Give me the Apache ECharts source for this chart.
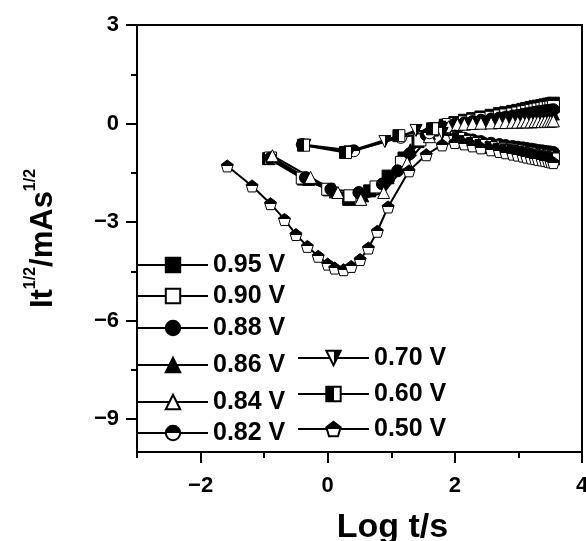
<!DOCTYPE html>
<html>
<head>
<meta charset="utf-8">
<script src="https://cdn.jsdelivr.net/npm/echarts@6/dist/echarts.min.js"></script>
<style>
  html, body { margin: 0; padding: 0; background: #fff; }
  #chart { width: 586px; height: 541px; }
</style>
</head>
<body>
<div id="chart"></div>
<script>
// potentials (legend labels)
const potentials = ['0.95 V', '0.90 V', '0.88 V', '0.86 V', '0.84 V', '0.82 V', '0.70 V', '0.60 V', '0.50 V'];

// shared long-time part of every transient (log t/s)
const tailLogT = [2.15, 2.28, 2.41, 2.57, 2.70, 2.80, 2.91, 2.99, 3.07, 3.13, 3.20, 3.26, 3.31, 3.37, 3.42, 3.47, 3.51, 3.55];

// early part of each transient: log t/s and It^1/2
const x095 = [-0.93, -0.38, 0.02, 0.33, 0.66, 0.95, 1.20, 1.42, 1.65, 1.85, 2.00];
const y095 = [-1.07, -1.69, -2.02, -2.31, -2.05, -1.60, -1.05, -0.55, -0.20, -0.05, 0.03,
  0.10, 0.15, 0.20, 0.25, 0.30, 0.33, 0.37, 0.40, 0.43, 0.46, 0.49, 0.51, 0.53, 0.55, 0.57, 0.59, 0.60, 0.62];

const x090 = [-0.90, -0.40, 0.00, 0.35, 0.76, 1.16, 1.45, 1.70, 1.90, 2.02];
const y090 = [-1.05, -1.66, -2.00, -2.20, -1.93, -1.18, -0.50, -0.15, -0.03, 0.00,
  0.05, 0.10, 0.15, 0.19, 0.23, 0.26, 0.29, 0.32, 0.35, 0.37, 0.40, 0.42, 0.44, 0.46, 0.48, 0.49, 0.50, 0.52];

const x088 = [-0.90, -0.35, 0.05, 0.49, 0.86, 1.10, 1.29, 1.55, 1.80, 2.00];
const y088 = [-1.05, -1.65, -2.00, -2.10, -1.84, -1.44, -0.92, -0.35, -0.10, -0.02,
  0.02, 0.06, 0.10, 0.14, 0.17, 0.20, 0.23, 0.25, 0.28, 0.30, 0.32, 0.34, 0.36, 0.37, 0.39, 0.40, 0.41, 0.42];

const x086 = [-0.88, -0.30, 0.12, 0.55, 0.95, 1.30, 1.60, 1.85, 2.02];
const y086 = [-1.02, -1.70, -2.08, -2.20, -1.65, -0.80, -0.30, -0.10, -0.03,
  0.00, 0.03, 0.06, 0.09, 0.11, 0.13, 0.15, 0.17, 0.19, 0.20, 0.22, 0.23, 0.24, 0.25, 0.26, 0.27, 0.28, 0.29];

const x084 = [-0.87, -0.27, 0.16, 0.52, 0.88, 1.25, 1.60, 1.90, 2.04];
const y084 = [-0.98, -1.64, -2.10, -2.31, -2.10, -1.20, -0.40, -0.10, -0.03,
  -0.02, 0.00, 0.01, 0.02, 0.03, 0.03, 0.04, 0.04, 0.05, 0.05, 0.05, 0.06, 0.06, 0.06, 0.07, 0.07, 0.07, 0.08];

const x082 = [-0.40, 0.41, 1.15, 1.60, 2.00];
const y082 = [-0.64, -0.83, -0.42, -0.28, -0.38,
  -0.45, -0.50, -0.55, -0.60, -0.64, -0.67, -0.70, -0.72, -0.74, -0.76, -0.78, -0.80, -0.82, -0.83, -0.85, -0.86, -0.87, -0.88];

const x070 = [-0.36, 0.35, 0.90, 1.39, 1.80, 2.02];
const y070 = [-0.66, -0.86, -0.55, -0.21, -0.30, -0.42,
  -0.50, -0.56, -0.62, -0.67, -0.71, -0.75, -0.78, -0.81, -0.83, -0.86, -0.88, -0.90, -0.92, -0.94, -0.95, -0.97, -0.98, -1.00];

const x060 = [-0.38, 0.28, 1.12, 1.65, 2.06];
const y060 = [-0.66, -0.88, -0.37, -0.16, -0.45,
  -0.55, -0.61, -0.67, -0.73, -0.78, -0.82, -0.85, -0.88, -0.91, -0.94, -0.96, -0.98, -1.00, -1.02, -1.04, -1.05, -1.07, -1.08];

const x050 = [-1.58, -1.19, -0.90, -0.68, -0.50, -0.32, -0.15, 0.00, 0.11, 0.25, 0.37, 0.51, 0.64, 0.78, 0.95, 1.28, 1.55, 1.80, 2.00];
const y050 = [-1.29, -1.90, -2.44, -2.92, -3.38, -3.74, -4.04, -4.28, -4.40, -4.45, -4.35, -4.14, -3.79, -3.28, -2.54, -1.44, -0.95, -0.65, -0.58,
  -0.62, -0.68, -0.74, -0.80, -0.85, -0.89, -0.93, -0.96, -0.99, -1.02, -1.05, -1.07, -1.09, -1.11, -1.13, -1.15, -1.17, -1.19];

// axis ticks
const xMajorTicks = [-2, 0, 2, 4];
const xMinorTicks = [-3, -1, 1, 3];
const yMajorTicks = [3, 0, -3, -6, -9];
const yMinorTicks = [1.5, -1.5, -4.5, -7.5];

const FONT = '"Liberation Sans", Arial, sans-serif';

const half = (x2, y2, a, b) => new echarts.graphic.LinearGradient(0, 0, x2, y2, [
  { offset: 0, color: a }, { offset: 0.5, color: a },
  { offset: 0.5, color: b }, { offset: 1, color: b }
]);

const pentagon = 'path://M50,0 L100,38 L81,100 L19,100 L0,38 Z';
const downTri = 'path://M0,0 L100,0 L50,87 Z';

const pairs = (xs, ys) => xs.concat(tailLogT).map((v, i) => [v, ys[i]]);

const seriesDefs = [
  { name: potentials[0], data: pairs(x095, y095), symbol: 'rect', fill: '#000' },
  { name: potentials[1], data: pairs(x090, y090), symbol: 'rect', fill: '#fff' },
  { name: potentials[2], data: pairs(x088, y088), symbol: 'circle', fill: '#000' },
  { name: potentials[3], data: pairs(x086, y086), symbol: 'triangle', fill: '#000' },
  { name: potentials[4], data: pairs(x084, y084), symbol: 'triangle', fill: '#fff' },
  { name: potentials[5], data: pairs(x082, y082), symbol: 'circle', fill: half(0, 1, '#000', '#fff') },
  { name: potentials[6], data: pairs(x070, y070), symbol: downTri, fill: half(1, 0, '#fff', '#000') },
  { name: potentials[7], data: pairs(x060, y060), symbol: 'rect', fill: half(1, 0, '#000', '#fff') },
  { name: potentials[8], data: pairs(x050, y050), symbol: pentagon, fill: half(0, 1, '#000', '#fff') }
];

// legend placement: [left, center y, icon width]
const legendSpots = [
  [137, 265, 70], [137, 296, 70], [137, 328, 70], [137, 365, 70], [137, 402, 70], [137, 433, 70],
  [297, 358, 71], [297, 394, 71], [297, 429, 71]
];

const chart = echarts.init(document.getElementById('chart'));

const tickStyle = { color: '#000', width: 2 };
const labelText = { color: '#000', fontSize: 22, fontWeight: 'bold', fontFamily: FONT };

chart.setOption({
  animation: false,
  backgroundColor: '#fff',
  grid: {
    left: 137, right: 4, top: 25, bottom: 89,
    outerBoundsMode: 'none', containLabel: false,
    show: true, borderColor: '#000', borderWidth: 2
  },
  legend: legendSpots.map((s, i) => ({
    data: [potentials[i]],
    left: s[0],
    top: s[1] - 13,
    padding: 0,
    itemWidth: s[2],
    itemHeight: 18,
    selectedMode: false,
    textStyle: { color: '#000', fontSize: 25, fontWeight: 'bold', fontFamily: FONT, lineHeight: 26 }
  })),
  xAxis: [
    {
      type: 'value', min: -3, max: 4, position: 'bottom',
      name: 'Log t/s', nameLocation: 'middle', nameGap: 59,
      nameTextStyle: { color: '#000', fontSize: 34, fontWeight: 'bold', fontFamily: FONT, lineHeight: 34, padding: [0, 0, 0, 66] },
      axisLine: { show: true, onZero: false, lineStyle: tickStyle },
      axisTick: { show: true, customValues: xMajorTicks, length: 11, lineStyle: tickStyle },
      axisLabel: Object.assign({
        customValues: xMajorTicks, margin: 23,
        formatter: v => String(v).replace('-', '\u2212')
      }, labelText),
      splitLine: { show: false }
    },
    {
      type: 'value', min: -3, max: 4, position: 'bottom',
      axisLine: { show: false, onZero: false },
      axisTick: { show: true, customValues: xMinorTicks, length: 6, lineStyle: tickStyle },
      axisLabel: { show: false },
      splitLine: { show: false }
    }
  ],
  yAxis: [
    {
      type: 'value', min: -10, max: 3, position: 'left',
      name: '{a|It}{b|1/2}{a|/mAs}{b|1/2}', nameLocation: 'middle', nameGap: 78, nameRotate: 90,
      nameTextStyle: {
        color: '#000', fontFamily: FONT, fontWeight: 'bold',
        rich: {
          a: { fontSize: 31, fontWeight: 'bold', fontFamily: FONT, color: '#000', lineHeight: 36, verticalAlign: 'bottom' },
          b: { fontSize: 16, fontWeight: 'bold', fontFamily: FONT, color: '#000', lineHeight: 18, verticalAlign: 'top' }
        }
      },
      axisLine: { show: true, onZero: false, lineStyle: tickStyle },
      axisTick: { show: true, customValues: yMajorTicks, length: 11, lineStyle: tickStyle },
      axisLabel: Object.assign({
        customValues: yMajorTicks, margin: 18,
        formatter: v => String(v).replace('-', '\u2212')
      }, labelText),
      splitLine: { show: false }
    },
    {
      type: 'value', min: -10, max: 3, position: 'left',
      axisLine: { show: false, onZero: false },
      axisTick: { show: true, customValues: yMinorTicks, length: 6, lineStyle: tickStyle },
      axisLabel: { show: false },
      splitLine: { show: false }
    }
  ],
  series: seriesDefs.map(d => ({
    name: d.name,
    type: 'line',
    data: d.data,
    symbol: d.symbol,
    symbolSize: 12,
    showAllSymbol: true,
    lineStyle: { color: '#000', width: 2 },
    itemStyle: { color: d.fill, borderColor: '#000', borderWidth: 1 },
    emphasis: { disabled: true }
  }))
});
</script>
</body>
</html>
